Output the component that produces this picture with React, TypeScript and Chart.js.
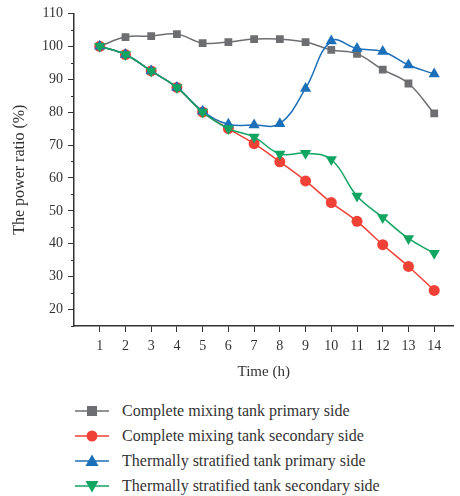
import React, { useEffect, useRef } from 'react';
import { Chart, registerables } from 'chart.js';

Chart.register(...registerables);

const hours = [1, 2, 3, 4, 5, 6, 7, 8, 9, 10, 11, 12, 13, 14];
const mixPrimary = [100, 102.8, 103.1, 103.7, 101, 101.3, 102.2, 102.2, 101.3, 98.9, 97.7, 92.9, 88.7, 79.6];
const mixSecondary = [100, 97.5, 92.5, 87.5, 80, 75, 70.4, 64.9, 59.1, 52.5, 46.8, 39.7, 33.1, 25.8];
const stratPrimary = [100, 97.5, 92.5, 87.5, 80.3, 76.3, 76.1, 76.5, 87.2, 101.6, 99.3, 98.4, 94.3, 91.6];
const stratSecondary = [100, 97.5, 92.5, 87.5, 80, 75, 72.4, 67.3, 67.5, 65.6, 54.5, 48, 41.6, 37.1];
const yTicks = [20, 30, 40, 50, 60, 70, 80, 90, 100, 110];
const yMinorTicks = [15, 25, 35, 45, 55, 65, 75, 85, 95, 105];

const seriesNames = [
  'Complete mixing tank primary side',
  'Complete mixing tank secondary side',
  'Thermally stratified tank primary side',
  'Thermally stratified tank secondary side',
];
const colors = ['#6d6e71', '#ef4136', '#1c6fb9', '#11a562'];
const markers = ['rect', 'circle', 'triangle', 'triangleDown'];
const drawOrder = [3, 2, 1, 0];

const FONT = '"Liberation Serif", "Times New Roman", serif';
const AXIS = '#333333';

const minorTickPlugin = {
  id: 'minorTicks',
  afterDraw(chart: any) {
    const y = chart.scales.y;
    const ctx = chart.ctx;
    ctx.save();
    ctx.strokeStyle = AXIS;
    ctx.lineWidth = 1;
    yMinorTicks.forEach((v) => {
      const py = Math.round(y.getPixelForValue(v)) + 0.5;
      ctx.beginPath();
      ctx.moveTo(y.right - 3, py);
      ctx.lineTo(y.right, py);
      ctx.stroke();
    });
    ctx.restore();
  },
};

function LegendMarker({ kind, color }: { kind: string; color: string }) {
  let shape: any = null;
  if (kind === 'rect') shape = <rect x={12} y={2} width={10} height={10} fill={color} />;
  else if (kind === 'circle') shape = <circle cx={17} cy={7} r={5.5} fill={color} />;
  else if (kind === 'triangle') shape = <polygon points="17,0.5 23.5,12 10.5,12" fill={color} />;
  else shape = <polygon points="10.5,2 23.5,2 17,13.5" fill={color} />;
  return (
    <svg width={34} height={14} style={{ display: 'block' }}>
      <line x1={0} y1={7} x2={34} y2={7} stroke={color} strokeWidth={1.5} />
      {shape}
    </svg>
  );
}

export default function App() {
  const ref = useRef<HTMLCanvasElement | null>(null);

  useEffect(() => {
    if (!ref.current) return;
    const series = [mixPrimary, mixSecondary, stratPrimary, stratSecondary];
    const chart = new Chart(ref.current, {
      type: 'line',
      data: {
        datasets: series.map((arr, i) => ({
          label: seriesNames[i],
          data: hours.map((h, j) => ({ x: h, y: arr[j] })),
          order: drawOrder[i],
          borderColor: colors[i],
          backgroundColor: colors[i],
          borderWidth: 1.5,
          tension: 0.4,
          pointStyle: markers[i] === 'triangleDown' ? 'triangle' : markers[i],
          rotation: markers[i] === 'triangleDown' ? 180 : 0,
          pointRadius: markers[i] === 'rect' ? 5.5 : markers[i] === 'circle' ? 5.5 : 6.5,
          pointBorderWidth: 0,
          fill: false,
        })),
      },
      options: {
        animation: false,
        responsive: false,
        maintainAspectRatio: false,
        layout: { padding: { top: 12, right: 0, left: 0, bottom: 0 } },
        plugins: { legend: { display: false }, tooltip: { enabled: false } },
        scales: {
          x: {
            type: 'linear',
            min: 0,
            max: 14.75,
            afterBuildTicks: (s: any) => {
              s.ticks = hours.map((v) => ({ value: v }));
            },
            afterFit: (s: any) => {
              s.height = 59;
            },
            grid: { drawOnChartArea: false, tickLength: 6, color: AXIS, tickWidth: 1 },
            border: { display: true, color: AXIS, width: 1.5 },
            ticks: { color: AXIS, font: { family: FONT, size: 14 }, padding: 6, maxRotation: 0 },
            title: { display: true, text: 'Time (h)', color: AXIS, font: { family: FONT, size: 15 }, padding: { top: 0, bottom: 4 } },
          },
          y: {
            type: 'linear',
            min: 15,
            max: 110,
            afterBuildTicks: (s: any) => {
              s.ticks = yTicks.map((v) => ({ value: v }));
            },
            afterFit: (s: any) => {
              s.width = 74;
            },
            grid: { drawOnChartArea: false, tickLength: 6, color: AXIS, tickWidth: 1 },
            border: { display: true, color: AXIS, width: 1.5 },
            ticks: { color: AXIS, font: { family: FONT, size: 14 }, padding: 5 },
            title: { display: true, text: 'The power ratio (%)', color: AXIS, font: { family: FONT, size: 16 }, padding: { top: 10, bottom: 0 } },
          },
        },
      } as any,
      plugins: [minorTickPlugin],
    });
    return () => chart.destroy();
  }, []);

  return (
    <div style={{ position: 'absolute', left: 0, top: 0, width: 460, height: 496, background: '#fff' }}>
      <canvas ref={ref} width={460} height={385} style={{ display: 'block' }} />
      <div style={{ position: 'absolute', left: 75, top: 398 }}>
        {seriesNames.map((n, i) => (
          <div key={n} style={{ display: 'flex', alignItems: 'center', height: 25 }}>
            <LegendMarker kind={markers[i]} color={colors[i]} />
            <span style={{ marginLeft: 13, fontFamily: FONT, fontSize: 16, color: AXIS, whiteSpace: 'nowrap' }}>{n}</span>
          </div>
        ))}
      </div>
    </div>
  );
}
